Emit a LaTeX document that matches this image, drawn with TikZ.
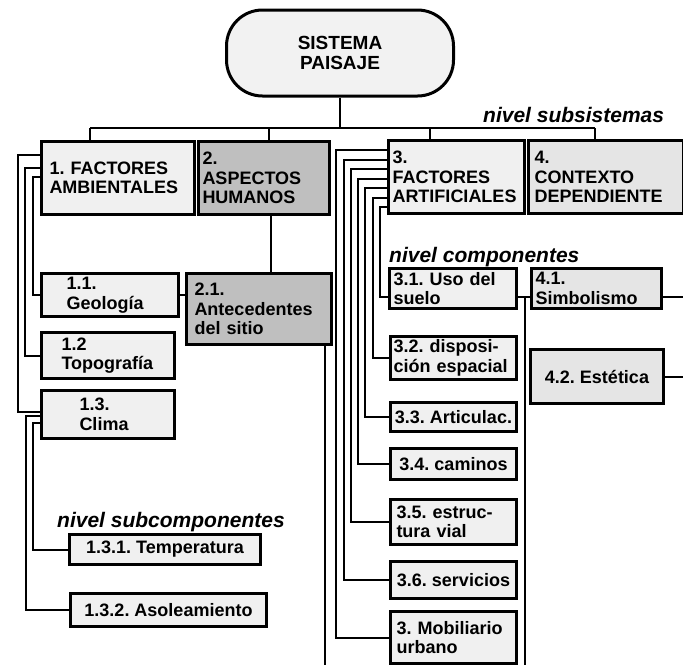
\documentclass[tikz,border=0pt]{standalone}
\usepackage{fontspec}
\setmainfont{Liberation Sans}
\newcommand\bxfont{\fontsize{18}{19.5}\selectfont\bfseries\frenchspacing}
\newcommand\topfont{\fontsize{19}{20}\selectfont\bfseries}
\newcommand\lblfont{\fontsize{21}{23}\selectfont\bfseries\itshape}
\hyphenpenalty=10000
\exhyphenpenalty=10000
\frenchspacing
\begin{document}
\begin{tikzpicture}[x=1pt,y=-1pt,
  bx/.style={draw, line width=3pt, fill=gray!12, anchor=north west, align=left, inner ysep=0pt, font=\bxfont},
  one/.style={draw, line width=3pt, fill=gray!12, anchor=north west, align=center, inner xsep=2pt, inner ysep=0pt, font=\bxfont},
  dark/.style={fill=gray!50},
  mid/.style={fill=gray!20},
  ln/.style={line width=2pt},
  lbl/.style={font=\lblfont, anchor=base west, inner sep=0pt}]
\useasboundingbox (0,0) rectangle (683,665);

% top
\node[draw, line width=3pt, fill=gray!10, rounded corners=36pt, minimum width=227pt, minimum height=86pt, align=center, font=\topfont] (top) at (340,53) {SISTEMA\\PAISAJE};

% level 1
\node[bx, minimum height=73pt, text width=137pt, inner xsep=8pt] (b1) at (40,140) {1. FACTORES\\AMBIENTALES};
\node[bx, dark, minimum height=73pt, text width=123pt, inner xsep=4pt] (b2) at (197,140) {2.\\ASPECTOS\\HUMANOS};
\node[bx, minimum height=73pt, text width=128pt, inner xsep=4pt] (b3) at (387,139) {3.\\FACTORES\\ARTIFICIALES};
\node[bx, mid, minimum height=73pt, text width=143pt, inner xsep=6pt] (b4) at (527,139) {4.\\CONTEXTO\\DEPENDIENTE};

% level 2 left
\node[bx, minimum height=43pt, text width=87pt, inner xsep=25pt] (g11) at (40,272) {1.1.\\Geología};
\node[bx, minimum height=46pt, text width=93pt, inner xsep=20pt] (t12) at (40,331) {1.2\\Topografía};
\node[bx, minimum height=48pt, text width=57pt, inner xsep=38pt] (c13) at (40,389) {1.3.\\Clima};
\node[bx, dark, minimum height=71pt, text width=129pt, inner xsep=8pt] (a21) at (185,272) {2.1.\\Antecedentes\\del sitio};

% subcomponents
\node[one, minimum width=191pt, minimum height=30pt] (t131) at (68,533) {1.3.1. Temperatura};
\node[one, minimum width=196pt, minimum height=33pt] (a132) at (69,592) {1.3.2. Asoleamiento};

% level 2 right
\node[bx, minimum height=40pt, text width=119pt, inner xsep=4pt] (u31) at (388,267) {3.1. Uso del\\suelo};
\node[bx, mid, minimum height=40pt, text width=122pt, inner xsep=4pt] (s41) at (530,267) {4.1.\\Simbolismo};
\node[bx, minimum height=43pt, text width=120pt, inner xsep=3pt] (d32) at (389,335) {3.2. disposi-\\ción espacial};
\node[one, mid, minimum width=133pt, minimum height=54pt] (e42) at (529,348) {4.2. Estética};
\node[one, minimum width=126pt, minimum height=29pt] (a33) at (389,401) {3.3. Articulac.};
\node[one, minimum width=126pt, minimum height=31pt] (c34) at (389,447) {3.4. caminos};
\node[bx, minimum height=45pt, text width=114pt, inner xsep=6pt] (e35) at (389,498) {3.5. estruc-\\tura vial};
\node[one, minimum width=126pt, minimum height=37pt] (s36) at (389,560) {3.6. servicios};
\node[bx, minimum height=52pt, text width=114pt, inner xsep=6pt] (m37) at (389,610) {3. Mobiliario\\urbano};

% labels
\node[lbl] (ls) at (483,122) {nivel subsistemas};
\node[lbl] (lc) at (389,262) {nivel componentes};
\node[lbl] (lsc) at (57,527) {nivel subcomponentes};

% bus
\coordinate (busL) at (90,128);
\coordinate (busR) at (595,128);
\coordinate (d2) at (269,128);
\coordinate (d3) at (430,128);
\coordinate (bot) at (0,665);
\coordinate (rim) at (683,0);
\draw[ln] (top.south) -- (top.south |- busL);
\draw[ln] (busL) -- (busR);
\draw[ln] (busL) -- (busL |- b1.north);
\draw[ln] (d2) -- (d2 |- b2.north);
\draw[ln] (d3) -- (d3 |- b3.north);
\draw[ln] (busR) -- (busR |- b4.north);

% factores ambientales
\draw[ln] ([yshift=-15]b1.north west) -- ++(-22,0) |- ([yshift=3]c13.west);
\draw[ln] ([yshift=-28]b1.north west) -- ++(-15,0) |- (t12.west);
\draw[ln] ([yshift=-37]b1.north west) -- ++(-7,0) |- (g11.west);
\draw[ln] ([yshift=-27]c13.north west) -- ++(-14,0) |- (a132.west);
\draw[ln] ([yshift=-34]c13.north west) -- ++(-7,0) |- (t131.west);

% aspectos humanos
\coordinate (b2d) at ([xshift=7]b2.south);
\draw[ln] (b2d) -- (b2d |- a21.north);
\draw[ln] (g11.east) -- (g11.east -| a21.west);
\coordinate (a21d) at ([xshift=-8]a21.south east);
\draw[ln] (a21d) -- (a21d |- bot);

% factores artificiales
\foreach \yo/\dx/\tg in {11/51/m37, 20.5/43.5/s36, 30/36/e35, 39.5/29/c34, 49/22/a33, 58.5/14.5/d32}
  \draw[ln] ([yshift=-\yo]b3.north west) -- ++(-\dx,0) |- (\tg.west);
\draw[ln] ([yshift=-68]b3.north west) -- ++(-7,0) |- ([yshift=-8]u31.west);

% contexto dependiente
\draw[ln] ([yshift=-8]u31.east) -- ([yshift=-8]s41.west);
\coordinate (jn) at ([xshift=7,yshift=-8]u31.east);
\draw[ln] (jn) -- (jn |- bot);
\coordinate (s41e) at ([yshift=-8]s41.east);
\draw[ln] (s41e) -- (s41e -| rim);
\draw[ln] (e42.east) -- (e42.east -| rim);
\end{tikzpicture}
\end{document}
